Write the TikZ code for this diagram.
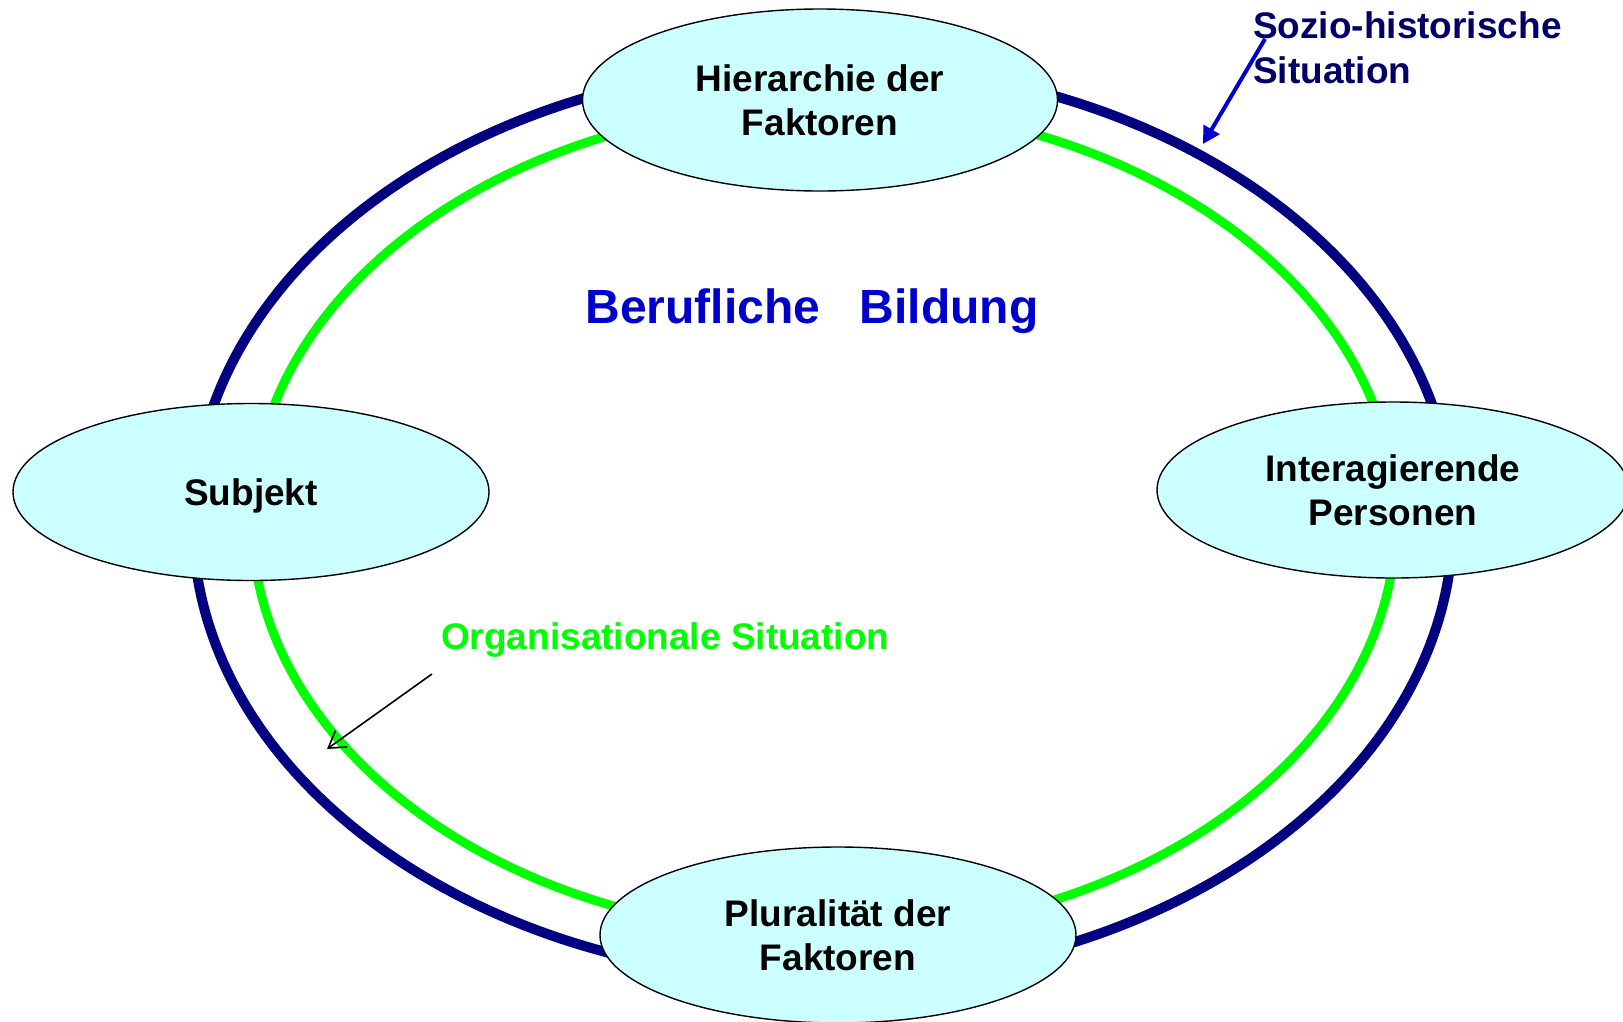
\documentclass[tikz,border=0pt]{standalone}
\usepackage{fontspec}
\setmainfont{Liberation Sans}
\usetikzlibrary{shapes.geometric,arrows.meta}
\definecolor{ringnavy}{RGB}{0,0,128}
\definecolor{ringgreen}{RGB}{0,255,0}
\definecolor{nodefill}{RGB}{204,255,255}
\definecolor{titleblue}{RGB}{0,0,204}
\definecolor{sozionavy}{RGB}{0,0,102}
\definecolor{arrowblue}{RGB}{0,0,204}
\begin{document}
\begin{tikzpicture}[x=1pt,y=-1pt,
  factor/.style={ellipse,draw=black,line width=1.4pt,fill=nodefill,inner sep=0pt,
    align=center,font=\bfseries\fontsize{37}{44}\selectfont},
  labeltext/.style={inner sep=0pt,font=\bfseries\fontsize{37}{45}\selectfont}]
\path[use as bounding box] (0,0) rectangle (1623,1021);
\clip (0,0) rectangle (1623,1021);
% rings
\draw[ringnavy,line width=10pt] (823,522) ellipse [x radius=630pt,y radius=458pt];
\draw[ringgreen,line width=9pt] (824,520) ellipse [x radius=572pt,y radius=415pt];
% factor nodes
\node[factor,minimum width=475pt,minimum height=182pt] (hier) at (820,100) {Hierarchie der\\Faktoren};
\node[factor,minimum width=476pt,minimum height=177pt,text depth=0pt] (subj) at (251,492) {Subjekt};
\node[factor,minimum width=472pt,minimum height=176pt] (inter) at (1393,490) {Interagierende\\Personen};
\node[factor,minimum width=476pt,minimum height=176pt] (plur) at (838,935) {Pluralität der\\Faktoren};
% centre title
\node[inner sep=0pt,text depth=0pt,text=titleblue,font=\bfseries\fontsize{48}{56}\selectfont] (title) at (812,306) {Berufliche\hspace{0.83em}Bildung};
% labels
\node[labeltext,text=sozionavy,align=left,anchor=west] (sozio) at (1253,48) {Sozio-historische\\Situation};
\node[labeltext,text depth=0pt,text=ringgreen,anchor=west] (orga) at (441,636) {Organisationale Situation};
% arrows
\coordinate (sozioStart) at (1265,39);
\coordinate (sozioEnd) at (1203,144);
\coordinate (orgaStart) at (432,674);
\coordinate (orgaEnd) at (327,749);
\draw[arrowblue,line width=4pt,-{Triangle[length=17pt,width=18pt]}] (sozioStart) -- (sozioEnd);
\draw[black,line width=1.6pt,-{Straight Barb[length=16pt,width=20pt]}] (orgaStart) -- (orgaEnd);
\end{tikzpicture}
\end{document}
